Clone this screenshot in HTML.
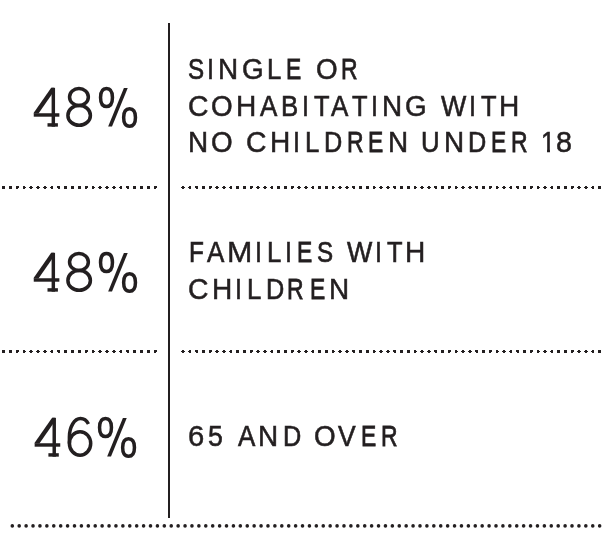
<!DOCTYPE html>
<html><head><meta charset="utf-8">
<style>
html,body{margin:0;padding:0;background:#fff;}
body{width:609px;height:550px;position:relative;overflow:hidden;font-family:"Liberation Sans",sans-serif;color:#231f20;}
.vl{position:absolute;left:168px;top:23px;width:2px;height:495px;background:#231f20;}
.ln{position:absolute;left:0;width:609px;height:34.0px;line-height:34.0px;font-size:29.05px;white-space:nowrap;will-change:transform;}
.ln i{position:absolute;top:0;font-style:normal;transform-origin:0 0;-webkit-text-stroke:0.60px #231f20;}
.nm{position:absolute;left:32px;font-size:56px;line-height:56px;letter-spacing:-2px;white-space:nowrap;color:transparent;}
svg{position:absolute;left:0;top:0;}
</style></head><body>
<div class="vl"></div>
<div class="nm" style="top:78.0px">48%</div>
<div class="nm" style="top:243.1px">48%</div>
<div class="nm" style="top:408.1px">46%</div>
<div class="ln" style="top:52.38px"><i style="left:188.01px;transform:scaleX(0.831);-webkit-text-stroke-width:0.73px">S</i><i style="left:207.10px;transform:scaleX(0.861);-webkit-text-stroke-width:0.60px">I</i><i style="left:217.93px;transform:scaleX(0.960);-webkit-text-stroke-width:0.55px">N</i><i style="left:241.82px;transform:scaleX(0.958);-webkit-text-stroke-width:0.55px">G</i><i style="left:267.44px;transform:scaleX(0.888);-webkit-text-stroke-width:0.64px">L</i><i style="left:285.74px;transform:scaleX(0.786);-webkit-text-stroke-width:0.80px">E</i> <i style="left:315.75px;transform:scaleX(0.957);-webkit-text-stroke-width:0.56px">O</i><i style="left:341.46px;transform:scaleX(0.790);-webkit-text-stroke-width:0.79px">R</i></div>
<div class="ln" style="top:89.23px"><i style="left:187.82px;transform:scaleX(0.977);-webkit-text-stroke-width:0.53px">C</i><i style="left:210.95px;transform:scaleX(0.957);-webkit-text-stroke-width:0.56px">O</i><i style="left:235.96px;transform:scaleX(0.966);-webkit-text-stroke-width:0.54px">H</i><i style="left:260.33px;transform:scaleX(0.895);-webkit-text-stroke-width:0.63px">A</i><i style="left:281.47px;transform:scaleX(0.888);-webkit-text-stroke-width:0.64px">B</i><i style="left:301.92px;transform:scaleX(0.861);-webkit-text-stroke-width:0.60px">I</i><i style="left:313.79px;transform:scaleX(0.875);-webkit-text-stroke-width:0.66px">T</i><i style="left:331.33px;transform:scaleX(0.895);-webkit-text-stroke-width:0.63px">A</i><i style="left:351.69px;transform:scaleX(0.875);-webkit-text-stroke-width:0.66px">T</i><i style="left:371.02px;transform:scaleX(0.861);-webkit-text-stroke-width:0.60px">I</i><i style="left:381.83px;transform:scaleX(0.960);-webkit-text-stroke-width:0.55px">N</i><i style="left:405.22px;transform:scaleX(0.958);-webkit-text-stroke-width:0.55px">G</i> <i style="left:440.93px;transform:scaleX(0.923);-webkit-text-stroke-width:0.60px">W</i><i style="left:469.27px;transform:scaleX(0.861);-webkit-text-stroke-width:0.60px">I</i><i style="left:480.69px;transform:scaleX(0.875);-webkit-text-stroke-width:0.66px">T</i><i style="left:499.06px;transform:scaleX(0.966);-webkit-text-stroke-width:0.54px">H</i></div>
<div class="ln" style="top:125.33px"><i style="left:188.08px;transform:scaleX(0.960);-webkit-text-stroke-width:0.55px">N</i><i style="left:210.95px;transform:scaleX(0.957);-webkit-text-stroke-width:0.56px">O</i> <i style="left:245.82px;transform:scaleX(0.977);-webkit-text-stroke-width:0.53px">C</i><i style="left:269.91px;transform:scaleX(0.966);-webkit-text-stroke-width:0.54px">H</i><i style="left:293.37px;transform:scaleX(0.861);-webkit-text-stroke-width:0.60px">I</i><i style="left:305.49px;transform:scaleX(0.888);-webkit-text-stroke-width:0.64px">L</i><i style="left:324.49px;transform:scaleX(0.870);-webkit-text-stroke-width:0.67px">D</i><i style="left:346.66px;transform:scaleX(0.790);-webkit-text-stroke-width:0.79px">R</i><i style="left:368.24px;transform:scaleX(0.786);-webkit-text-stroke-width:0.80px">E</i><i style="left:388.03px;transform:scaleX(0.960);-webkit-text-stroke-width:0.55px">N</i> <i style="left:421.40px;transform:scaleX(0.887);-webkit-text-stroke-width:0.64px">U</i><i style="left:443.88px;transform:scaleX(0.960);-webkit-text-stroke-width:0.55px">N</i><i style="left:467.84px;transform:scaleX(0.870);-webkit-text-stroke-width:0.67px">D</i><i style="left:490.69px;transform:scaleX(0.786);-webkit-text-stroke-width:0.80px">E</i><i style="left:511.36px;transform:scaleX(0.790);-webkit-text-stroke-width:0.79px">R</i> <i style="left:540.72px;transform:scaleX(0.873);clip-path:polygon(0 0,100% 0,100% 23.90px,10.27px 23.90px,10.27px 100%,6.91px 100%,6.91px 23.90px,0 23.90px);-webkit-text-stroke-width:0.60px">1</i><i style="left:555.91px;transform:scaleX(0.989);-webkit-text-stroke-width:0.52px">8</i></div>
<div class="ln" style="top:235.13px"><i style="left:188.80px;transform:scaleX(0.838);-webkit-text-stroke-width:0.72px">F</i><i style="left:206.68px;transform:scaleX(0.895);-webkit-text-stroke-width:0.63px">A</i><i style="left:226.85px;transform:scaleX(1.046);-webkit-text-stroke-width:0.46px">M</i><i style="left:255.02px;transform:scaleX(0.861);-webkit-text-stroke-width:0.60px">I</i><i style="left:266.64px;transform:scaleX(0.888);-webkit-text-stroke-width:0.64px">L</i><i style="left:285.17px;transform:scaleX(0.861);-webkit-text-stroke-width:0.60px">I</i><i style="left:296.84px;transform:scaleX(0.786);-webkit-text-stroke-width:0.80px">E</i><i style="left:316.91px;transform:scaleX(0.831);-webkit-text-stroke-width:0.73px">S</i> <i style="left:347.08px;transform:scaleX(0.923);-webkit-text-stroke-width:0.60px">W</i><i style="left:375.37px;transform:scaleX(0.861);-webkit-text-stroke-width:0.60px">I</i><i style="left:386.69px;transform:scaleX(0.875);-webkit-text-stroke-width:0.66px">T</i><i style="left:405.06px;transform:scaleX(0.966);-webkit-text-stroke-width:0.54px">H</i></div>
<div class="ln" style="top:272.03px"><i style="left:187.82px;transform:scaleX(0.977);-webkit-text-stroke-width:0.53px">C</i><i style="left:212.11px;transform:scaleX(0.966);-webkit-text-stroke-width:0.54px">H</i><i style="left:235.47px;transform:scaleX(0.861);-webkit-text-stroke-width:0.60px">I</i><i style="left:246.79px;transform:scaleX(0.888);-webkit-text-stroke-width:0.64px">L</i><i style="left:265.64px;transform:scaleX(0.870);-webkit-text-stroke-width:0.67px">D</i><i style="left:287.46px;transform:scaleX(0.790);-webkit-text-stroke-width:0.79px">R</i><i style="left:309.84px;transform:scaleX(0.786);-webkit-text-stroke-width:0.80px">E</i><i style="left:329.18px;transform:scaleX(0.960);-webkit-text-stroke-width:0.55px">N</i></div>
<div class="ln" style="top:419.33px"><i style="left:187.77px;transform:scaleX(1.007);-webkit-text-stroke-width:0.50px">6</i><i style="left:207.71px;transform:scaleX(0.918);-webkit-text-stroke-width:0.60px">5</i> <i style="left:237.63px;transform:scaleX(0.895);-webkit-text-stroke-width:0.63px">A</i><i style="left:258.03px;transform:scaleX(0.960);-webkit-text-stroke-width:0.55px">N</i><i style="left:282.74px;transform:scaleX(0.870);-webkit-text-stroke-width:0.67px">D</i> <i style="left:313.55px;transform:scaleX(0.957);-webkit-text-stroke-width:0.56px">O</i><i style="left:338.06px;transform:scaleX(0.912);-webkit-text-stroke-width:0.61px">V</i><i style="left:360.84px;transform:scaleX(0.786);-webkit-text-stroke-width:0.80px">E</i><i style="left:381.36px;transform:scaleX(0.790);-webkit-text-stroke-width:0.79px">R</i></div>
<svg width="609" height="550" viewBox="0 0 609 550" fill="#231f20"><g transform="translate(0.00 0.00)"><rect x="51.6" y="87.8" width="3.45" height="38.85"/><rect x="33.75" y="113.25" width="25.6" height="3.45"/><rect x="47.5" y="123.2" width="10.4" height="3.45"/><polygon points="51.2,87.8 54,87.8 54,91.3 38.5,113.5 33.75,113.5 33.75,112.7"/></g><g transform="translate(0.00 0.00)" fill="none" stroke="#231f20" stroke-width="3.50"><ellipse cx="78.95" cy="97.05" rx="9.4" ry="8.5"/><ellipse cx="79.15" cy="115.4" rx="11.25" ry="9.9"/></g><g transform="translate(0.00 0.00)"><g fill="none" stroke="#231f20" stroke-width="3.50"><path d="M106.50 88.55 C110.55 88.55 112.45 91.43 112.45 97.55 C112.45 103.67 110.55 106.55 106.50 106.55 C102.45 106.55 100.55 103.67 100.55 97.55 C100.55 91.43 102.45 88.55 106.50 88.55Z"/><path d="M129.55 108.65 C133.56 108.65 135.45 111.47 135.45 117.45 C135.45 123.43 133.56 126.25 129.55 126.25 C125.54 126.25 123.65 123.43 123.65 117.45 C123.65 111.47 125.54 108.65 129.55 108.65Z"/></g><polygon points="123.9,87.95 127.75,87.95 112.0,126.6 108.15,126.6"/></g><g transform="translate(0.00 165.00)"><rect x="51.6" y="87.8" width="3.45" height="38.85"/><rect x="33.75" y="113.25" width="25.6" height="3.45"/><rect x="47.5" y="123.2" width="10.4" height="3.45"/><polygon points="51.2,87.8 54,87.8 54,91.3 38.5,113.5 33.75,113.5 33.75,112.7"/></g><g transform="translate(0.00 165.00)" fill="none" stroke="#231f20" stroke-width="3.50"><ellipse cx="78.95" cy="97.05" rx="9.4" ry="8.5"/><ellipse cx="79.15" cy="115.4" rx="11.25" ry="9.9"/></g><g transform="translate(0.00 165.00)"><g fill="none" stroke="#231f20" stroke-width="3.50"><path d="M106.50 88.55 C110.55 88.55 112.45 91.43 112.45 97.55 C112.45 103.67 110.55 106.55 106.50 106.55 C102.45 106.55 100.55 103.67 100.55 97.55 C100.55 91.43 102.45 88.55 106.50 88.55Z"/><path d="M129.55 108.65 C133.56 108.65 135.45 111.47 135.45 117.45 C135.45 123.43 133.56 126.25 129.55 126.25 C125.54 126.25 123.65 123.43 123.65 117.45 C123.65 111.47 125.54 108.65 129.55 108.65Z"/></g><polygon points="123.9,87.95 127.75,87.95 112.0,126.6 108.15,126.6"/></g><g transform="translate(0.90 330.00)"><rect x="51.6" y="87.8" width="3.45" height="38.85"/><rect x="33.75" y="113.25" width="25.6" height="3.45"/><rect x="47.5" y="123.2" width="10.4" height="3.45"/><polygon points="51.2,87.8 54,87.8 54,91.3 38.5,113.5 33.75,113.5 33.75,112.7"/></g><g transform="translate(0.00 0.00)" fill="none" stroke="#231f20" stroke-width="3.50"><ellipse cx="80.05" cy="443.45" rx="10.65" ry="11.8"/><path d="M88.45 424.0 A9.7 12.7 0 0 0 80.5 418.6 A11.1 18.4 0 0 0 69.4 437 V443.5"/></g><g transform="translate(-1.00 330.00)"><g fill="none" stroke="#231f20" stroke-width="3.50"><path d="M106.50 88.55 C110.55 88.55 112.45 91.43 112.45 97.55 C112.45 103.67 110.55 106.55 106.50 106.55 C102.45 106.55 100.55 103.67 100.55 97.55 C100.55 91.43 102.45 88.55 106.50 88.55Z"/><path d="M129.55 108.65 C133.56 108.65 135.45 111.47 135.45 117.45 C135.45 123.43 133.56 126.25 129.55 126.25 C125.54 126.25 123.65 123.43 123.65 117.45 C123.65 111.47 125.54 108.65 129.55 108.65Z"/></g><polygon points="123.9,87.95 127.75,87.95 112.0,126.6 108.15,126.6"/></g><path shape-rendering="crispEdges" d="M2 186h3v1h-3zM2 187h3v1h-3zM2 188h3v1h-3zM9 186h3v1h-3zM9 187h3v1h-3zM9 188h3v1h-3zM16 186h3v1h-3zM16 187h3v1h-3zM16 188h2v1h-2zM23 186h2v1h-2zM23 187h3v1h-3zM23 188h2v1h-2zM30 186h2v1h-2zM29 187h4v1h-4zM30 188h2v1h-2zM37 186h2v1h-2zM36 187h4v1h-4zM37 188h2v1h-2zM44 186h2v1h-2zM43 187h4v1h-4zM44 188h2v1h-2zM51 186h2v1h-2zM50 187h3v1h-3zM51 188h2v1h-2zM57 186h3v1h-3zM57 187h3v1h-3zM58 188h2v1h-2zM64 186h3v1h-3zM64 187h3v1h-3zM64 188h3v1h-3zM71 186h3v1h-3zM71 187h3v1h-3zM71 188h3v1h-3zM78 186h3v1h-3zM78 187h3v1h-3zM78 188h3v1h-3zM85 186h3v1h-3zM85 187h3v1h-3zM85 188h2v1h-2zM92 186h2v1h-2zM92 187h3v1h-3zM92 188h2v1h-2zM99 186h2v1h-2zM98 187h4v1h-4zM99 188h2v1h-2zM106 186h2v1h-2zM105 187h4v1h-4zM106 188h2v1h-2zM113 186h2v1h-2zM112 187h4v1h-4zM113 188h2v1h-2zM120 186h2v1h-2zM119 187h3v1h-3zM120 188h2v1h-2zM126 186h3v1h-3zM126 187h3v1h-3zM127 188h2v1h-2zM133 186h3v1h-3zM133 187h3v1h-3zM133 188h3v1h-3zM140 186h3v1h-3zM140 187h3v1h-3zM140 188h3v1h-3zM147 186h3v1h-3zM147 187h3v1h-3zM147 188h3v1h-3zM154 186h3v1h-3zM154 187h3v1h-3zM154 188h2v1h-2zM182 186h2v1h-2zM181 187h4v1h-4zM182 188h2v1h-2zM189 186h2v1h-2zM188 187h3v1h-3zM189 188h2v1h-2zM195 186h3v1h-3zM195 187h3v1h-3zM196 188h2v1h-2zM202 186h3v1h-3zM202 187h3v1h-3zM202 188h3v1h-3zM209 186h3v1h-3zM209 187h3v1h-3zM209 188h2v1h-2zM216 186h2v1h-2zM215 187h4v1h-4zM216 188h2v1h-2zM223 186h2v1h-2zM222 187h4v1h-4zM223 188h2v1h-2zM230 186h2v1h-2zM229 187h3v1h-3zM230 188h2v1h-2zM236 186h3v1h-3zM236 187h3v1h-3zM236 188h3v1h-3zM243 186h3v1h-3zM243 187h3v1h-3zM243 188h3v1h-3zM250 186h3v1h-3zM250 187h3v1h-3zM250 188h2v1h-2zM257 186h2v1h-2zM256 187h4v1h-4zM257 188h2v1h-2zM264 186h2v1h-2zM263 187h4v1h-4zM264 188h2v1h-2zM271 186h2v1h-2zM270 187h3v1h-3zM271 188h2v1h-2zM277 186h3v1h-3zM277 187h3v1h-3zM277 188h3v1h-3zM284 186h3v1h-3zM284 187h3v1h-3zM284 188h3v1h-3zM291 186h3v1h-3zM291 187h3v1h-3zM291 188h2v1h-2zM298 186h2v1h-2zM297 187h4v1h-4zM298 188h2v1h-2zM305 186h2v1h-2zM304 187h4v1h-4zM305 188h2v1h-2zM312 186h2v1h-2zM311 187h3v1h-3zM312 188h2v1h-2zM318 186h3v1h-3zM318 187h3v1h-3zM318 188h3v1h-3zM325 186h3v1h-3zM325 187h3v1h-3zM325 188h3v1h-3zM332 186h2v1h-2zM332 187h3v1h-3zM332 188h2v1h-2zM339 186h2v1h-2zM338 187h4v1h-4zM339 188h2v1h-2zM346 186h2v1h-2zM345 187h4v1h-4zM346 188h2v1h-2zM352 186h3v1h-3zM352 187h3v1h-3zM353 188h2v1h-2zM359 186h3v1h-3zM359 187h3v1h-3zM359 188h3v1h-3zM366 186h3v1h-3zM366 187h3v1h-3zM366 188h3v1h-3zM373 186h2v1h-2zM373 187h3v1h-3zM373 188h2v1h-2zM380 186h2v1h-2zM379 187h4v1h-4zM380 188h2v1h-2zM387 186h2v1h-2zM386 187h4v1h-4zM387 188h2v1h-2zM393 186h3v1h-3zM393 187h3v1h-3zM394 188h2v1h-2zM400 186h3v1h-3zM400 187h3v1h-3zM400 188h3v1h-3zM407 186h3v1h-3zM407 187h3v1h-3zM407 188h3v1h-3zM414 186h2v1h-2zM414 187h3v1h-3zM414 188h2v1h-2zM421 186h2v1h-2zM420 187h4v1h-4zM421 188h2v1h-2zM428 186h2v1h-2zM427 187h4v1h-4zM428 188h2v1h-2zM434 186h3v1h-3zM434 187h3v1h-3zM435 188h2v1h-2zM441 186h3v1h-3zM441 187h3v1h-3zM441 188h3v1h-3zM448 186h3v1h-3zM448 187h3v1h-3zM448 188h2v1h-2zM455 186h2v1h-2zM455 187h3v1h-3zM455 188h2v1h-2zM462 186h2v1h-2zM461 187h4v1h-4zM462 188h2v1h-2zM469 186h2v1h-2zM468 187h4v1h-4zM469 188h2v1h-2zM475 186h3v1h-3zM475 187h3v1h-3zM476 188h2v1h-2zM482 186h3v1h-3zM482 187h3v1h-3zM482 188h3v1h-3zM489 186h3v1h-3zM489 187h3v1h-3zM489 188h2v1h-2zM496 186h2v1h-2zM496 187h3v1h-3zM496 188h2v1h-2zM503 186h2v1h-2zM502 187h4v1h-4zM503 188h2v1h-2zM510 186h2v1h-2zM509 187h3v1h-3zM510 188h2v1h-2zM516 186h3v1h-3zM516 187h3v1h-3zM517 188h2v1h-2zM523 186h3v1h-3zM523 187h3v1h-3zM523 188h3v1h-3zM530 186h3v1h-3zM530 187h3v1h-3zM530 188h2v1h-2zM537 186h2v1h-2zM537 187h3v1h-3zM537 188h2v1h-2zM544 186h2v1h-2zM543 187h4v1h-4zM544 188h2v1h-2zM551 186h2v1h-2zM550 187h3v1h-3zM551 188h2v1h-2zM557 186h3v1h-3zM557 187h3v1h-3zM557 188h3v1h-3zM564 186h3v1h-3zM564 187h3v1h-3zM564 188h3v1h-3zM571 186h3v1h-3zM571 187h3v1h-3zM571 188h2v1h-2zM578 186h2v1h-2zM577 187h4v1h-4zM578 188h2v1h-2zM585 186h2v1h-2zM584 187h4v1h-4zM585 188h2v1h-2zM592 186h2v1h-2zM591 187h3v1h-3zM592 188h2v1h-2zM598 186h3v1h-3zM598 187h3v1h-3zM598 188h3v1h-3zM2 350h3v1h-3zM2 351h3v1h-3zM2 352h3v1h-3zM9 350h3v1h-3zM9 351h3v1h-3zM9 352h3v1h-3zM16 350h3v1h-3zM16 351h3v1h-3zM16 352h2v1h-2zM23 350h2v1h-2zM23 351h3v1h-3zM23 352h2v1h-2zM30 350h2v1h-2zM29 351h4v1h-4zM30 352h2v1h-2zM37 350h2v1h-2zM36 351h4v1h-4zM37 352h2v1h-2zM44 350h2v1h-2zM43 351h4v1h-4zM44 352h2v1h-2zM51 350h2v1h-2zM50 351h3v1h-3zM51 352h2v1h-2zM57 350h3v1h-3zM57 351h3v1h-3zM58 352h2v1h-2zM64 350h3v1h-3zM64 351h3v1h-3zM64 352h3v1h-3zM71 350h3v1h-3zM71 351h3v1h-3zM71 352h3v1h-3zM78 350h3v1h-3zM78 351h3v1h-3zM78 352h3v1h-3zM85 350h3v1h-3zM85 351h3v1h-3zM85 352h2v1h-2zM92 350h2v1h-2zM92 351h3v1h-3zM92 352h2v1h-2zM99 350h2v1h-2zM98 351h4v1h-4zM99 352h2v1h-2zM106 350h2v1h-2zM105 351h4v1h-4zM106 352h2v1h-2zM113 350h2v1h-2zM112 351h4v1h-4zM113 352h2v1h-2zM120 350h2v1h-2zM119 351h3v1h-3zM120 352h2v1h-2zM126 350h3v1h-3zM126 351h3v1h-3zM127 352h2v1h-2zM133 350h3v1h-3zM133 351h3v1h-3zM133 352h3v1h-3zM140 350h3v1h-3zM140 351h3v1h-3zM140 352h3v1h-3zM147 350h3v1h-3zM147 351h3v1h-3zM147 352h3v1h-3zM154 350h3v1h-3zM154 351h3v1h-3zM154 352h2v1h-2zM182 350h2v1h-2zM181 351h4v1h-4zM182 352h2v1h-2zM189 350h2v1h-2zM188 351h3v1h-3zM189 352h2v1h-2zM195 350h3v1h-3zM195 351h3v1h-3zM196 352h2v1h-2zM202 350h3v1h-3zM202 351h3v1h-3zM202 352h3v1h-3zM209 350h3v1h-3zM209 351h3v1h-3zM209 352h2v1h-2zM216 350h2v1h-2zM215 351h4v1h-4zM216 352h2v1h-2zM223 350h2v1h-2zM222 351h4v1h-4zM223 352h2v1h-2zM230 350h2v1h-2zM229 351h3v1h-3zM230 352h2v1h-2zM236 350h3v1h-3zM236 351h3v1h-3zM236 352h3v1h-3zM243 350h3v1h-3zM243 351h3v1h-3zM243 352h3v1h-3zM250 350h3v1h-3zM250 351h3v1h-3zM250 352h2v1h-2zM257 350h2v1h-2zM256 351h4v1h-4zM257 352h2v1h-2zM264 350h2v1h-2zM263 351h4v1h-4zM264 352h2v1h-2zM271 350h2v1h-2zM270 351h3v1h-3zM271 352h2v1h-2zM277 350h3v1h-3zM277 351h3v1h-3zM277 352h3v1h-3zM284 350h3v1h-3zM284 351h3v1h-3zM284 352h3v1h-3zM291 350h3v1h-3zM291 351h3v1h-3zM291 352h2v1h-2zM298 350h2v1h-2zM297 351h4v1h-4zM298 352h2v1h-2zM305 350h2v1h-2zM304 351h4v1h-4zM305 352h2v1h-2zM312 350h2v1h-2zM311 351h3v1h-3zM312 352h2v1h-2zM318 350h3v1h-3zM318 351h3v1h-3zM318 352h3v1h-3zM325 350h3v1h-3zM325 351h3v1h-3zM325 352h3v1h-3zM332 350h2v1h-2zM332 351h3v1h-3zM332 352h2v1h-2zM339 350h2v1h-2zM338 351h4v1h-4zM339 352h2v1h-2zM346 350h2v1h-2zM345 351h4v1h-4zM346 352h2v1h-2zM352 350h3v1h-3zM352 351h3v1h-3zM353 352h2v1h-2zM359 350h3v1h-3zM359 351h3v1h-3zM359 352h3v1h-3zM366 350h3v1h-3zM366 351h3v1h-3zM366 352h3v1h-3zM373 350h2v1h-2zM373 351h3v1h-3zM373 352h2v1h-2zM380 350h2v1h-2zM379 351h4v1h-4zM380 352h2v1h-2zM387 350h2v1h-2zM386 351h4v1h-4zM387 352h2v1h-2zM393 350h3v1h-3zM393 351h3v1h-3zM394 352h2v1h-2zM400 350h3v1h-3zM400 351h3v1h-3zM400 352h3v1h-3zM407 350h3v1h-3zM407 351h3v1h-3zM407 352h3v1h-3zM414 350h2v1h-2zM414 351h3v1h-3zM414 352h2v1h-2zM421 350h2v1h-2zM420 351h4v1h-4zM421 352h2v1h-2zM428 350h2v1h-2zM427 351h4v1h-4zM428 352h2v1h-2zM434 350h3v1h-3zM434 351h3v1h-3zM435 352h2v1h-2zM441 350h3v1h-3zM441 351h3v1h-3zM441 352h3v1h-3zM448 350h3v1h-3zM448 351h3v1h-3zM448 352h2v1h-2zM455 350h2v1h-2zM455 351h3v1h-3zM455 352h2v1h-2zM462 350h2v1h-2zM461 351h4v1h-4zM462 352h2v1h-2zM469 350h2v1h-2zM468 351h4v1h-4zM469 352h2v1h-2zM475 350h3v1h-3zM475 351h3v1h-3zM476 352h2v1h-2zM482 350h3v1h-3zM482 351h3v1h-3zM482 352h3v1h-3zM489 350h3v1h-3zM489 351h3v1h-3zM489 352h2v1h-2zM496 350h2v1h-2zM496 351h3v1h-3zM496 352h2v1h-2zM503 350h2v1h-2zM502 351h4v1h-4zM503 352h2v1h-2zM510 350h2v1h-2zM509 351h3v1h-3zM510 352h2v1h-2zM516 350h3v1h-3zM516 351h3v1h-3zM517 352h2v1h-2zM523 350h3v1h-3zM523 351h3v1h-3zM523 352h3v1h-3zM530 350h3v1h-3zM530 351h3v1h-3zM530 352h2v1h-2zM537 350h2v1h-2zM537 351h3v1h-3zM537 352h2v1h-2zM544 350h2v1h-2zM543 351h4v1h-4zM544 352h2v1h-2zM551 350h2v1h-2zM550 351h3v1h-3zM551 352h2v1h-2zM557 350h3v1h-3zM557 351h3v1h-3zM557 352h3v1h-3zM564 350h3v1h-3zM564 351h3v1h-3zM564 352h3v1h-3zM571 350h3v1h-3zM571 351h3v1h-3zM571 352h2v1h-2zM578 350h2v1h-2zM577 351h4v1h-4zM578 352h2v1h-2zM585 350h2v1h-2zM584 351h4v1h-4zM585 352h2v1h-2zM592 350h2v1h-2zM591 351h3v1h-3zM592 352h2v1h-2zM598 350h3v1h-3zM598 351h3v1h-3zM598 352h3v1h-3z"/><circle cx="12.30" cy="525.9" r="1.8"/><circle cx="19.21" cy="525.9" r="1.8"/><circle cx="26.12" cy="525.9" r="1.8"/><circle cx="33.03" cy="525.9" r="1.8"/><circle cx="39.94" cy="525.9" r="1.8"/><circle cx="46.85" cy="525.9" r="1.8"/><circle cx="53.76" cy="525.9" r="1.8"/><circle cx="60.67" cy="525.9" r="1.8"/><circle cx="67.58" cy="525.9" r="1.8"/><circle cx="74.49" cy="525.9" r="1.8"/><circle cx="81.40" cy="525.9" r="1.8"/><circle cx="88.31" cy="525.9" r="1.8"/><circle cx="95.22" cy="525.9" r="1.8"/><circle cx="102.13" cy="525.9" r="1.8"/><circle cx="109.04" cy="525.9" r="1.8"/><circle cx="115.95" cy="525.9" r="1.8"/><circle cx="122.86" cy="525.9" r="1.8"/><circle cx="129.77" cy="525.9" r="1.8"/><circle cx="136.68" cy="525.9" r="1.8"/><circle cx="143.59" cy="525.9" r="1.8"/><circle cx="150.50" cy="525.9" r="1.8"/><circle cx="157.41" cy="525.9" r="1.8"/><circle cx="164.32" cy="525.9" r="1.8"/><circle cx="171.23" cy="525.9" r="1.8"/><circle cx="178.14" cy="525.9" r="1.8"/><circle cx="185.05" cy="525.9" r="1.8"/><circle cx="191.96" cy="525.9" r="1.8"/><circle cx="198.87" cy="525.9" r="1.8"/><circle cx="205.78" cy="525.9" r="1.8"/><circle cx="212.69" cy="525.9" r="1.8"/><circle cx="219.60" cy="525.9" r="1.8"/><circle cx="226.51" cy="525.9" r="1.8"/><circle cx="233.42" cy="525.9" r="1.8"/><circle cx="240.33" cy="525.9" r="1.8"/><circle cx="247.24" cy="525.9" r="1.8"/><circle cx="254.15" cy="525.9" r="1.8"/><circle cx="261.06" cy="525.9" r="1.8"/><circle cx="267.97" cy="525.9" r="1.8"/><circle cx="274.88" cy="525.9" r="1.8"/><circle cx="281.79" cy="525.9" r="1.8"/><circle cx="288.70" cy="525.9" r="1.8"/><circle cx="295.61" cy="525.9" r="1.8"/><circle cx="302.52" cy="525.9" r="1.8"/><circle cx="309.43" cy="525.9" r="1.8"/><circle cx="316.34" cy="525.9" r="1.8"/><circle cx="323.25" cy="525.9" r="1.8"/><circle cx="330.16" cy="525.9" r="1.8"/><circle cx="337.07" cy="525.9" r="1.8"/><circle cx="343.98" cy="525.9" r="1.8"/><circle cx="350.89" cy="525.9" r="1.8"/><circle cx="357.80" cy="525.9" r="1.8"/><circle cx="364.71" cy="525.9" r="1.8"/><circle cx="371.62" cy="525.9" r="1.8"/><circle cx="378.53" cy="525.9" r="1.8"/><circle cx="385.44" cy="525.9" r="1.8"/><circle cx="392.35" cy="525.9" r="1.8"/><circle cx="399.26" cy="525.9" r="1.8"/><circle cx="406.17" cy="525.9" r="1.8"/><circle cx="413.08" cy="525.9" r="1.8"/><circle cx="419.99" cy="525.9" r="1.8"/><circle cx="426.90" cy="525.9" r="1.8"/><circle cx="433.81" cy="525.9" r="1.8"/><circle cx="440.72" cy="525.9" r="1.8"/><circle cx="447.63" cy="525.9" r="1.8"/><circle cx="454.54" cy="525.9" r="1.8"/><circle cx="461.45" cy="525.9" r="1.8"/><circle cx="468.36" cy="525.9" r="1.8"/><circle cx="475.27" cy="525.9" r="1.8"/><circle cx="482.18" cy="525.9" r="1.8"/><circle cx="489.09" cy="525.9" r="1.8"/><circle cx="496.00" cy="525.9" r="1.8"/><circle cx="502.91" cy="525.9" r="1.8"/><circle cx="509.82" cy="525.9" r="1.8"/><circle cx="516.73" cy="525.9" r="1.8"/><circle cx="523.64" cy="525.9" r="1.8"/><circle cx="530.55" cy="525.9" r="1.8"/><circle cx="537.46" cy="525.9" r="1.8"/><circle cx="544.37" cy="525.9" r="1.8"/><circle cx="551.28" cy="525.9" r="1.8"/><circle cx="558.19" cy="525.9" r="1.8"/><circle cx="565.10" cy="525.9" r="1.8"/><circle cx="572.01" cy="525.9" r="1.8"/><circle cx="578.92" cy="525.9" r="1.8"/><circle cx="585.83" cy="525.9" r="1.8"/><circle cx="592.74" cy="525.9" r="1.8"/><circle cx="599.65" cy="525.9" r="1.8"/></svg>
</body></html>
